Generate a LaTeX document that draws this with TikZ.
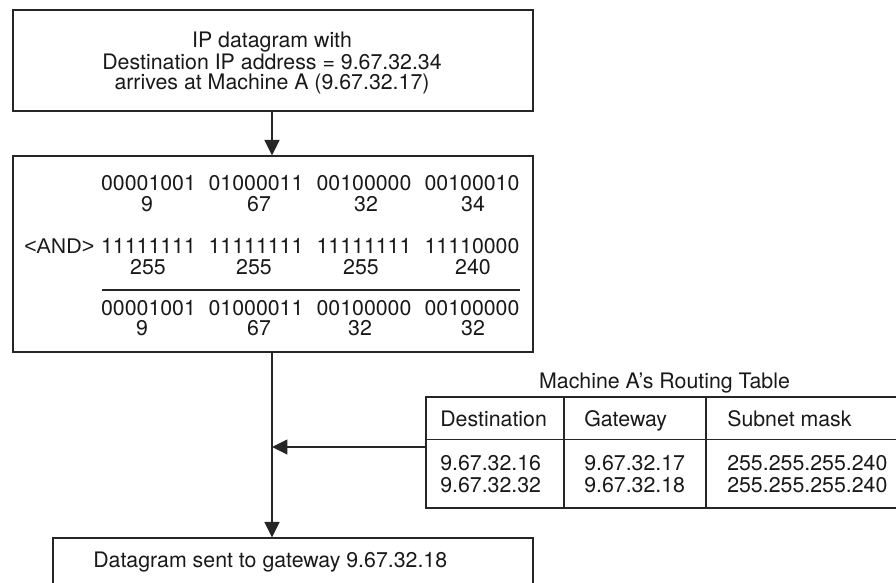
\documentclass[tikz,border=0pt]{standalone}
\usepackage{fontspec}
\setmainfont{TeX Gyre Heros}
\newfontfamily\andfont{Liberation Sans}
\usetikzlibrary{arrows.meta,fit}
\begin{document}
\begin{tikzpicture}[x=0.75pt,y=-0.75pt,
  box/.style={draw=black!85, line width=0.9pt, inner sep=0pt, fit={#1}},
  txt/.style={inner sep=0pt, anchor=base, text=black!90, font=\fontsize{16pt}{16pt}\selectfont},
  ltxt/.style={txt, anchor=base west},
  rule/.style={draw=black!85, line width=0.9pt},
  arr/.style={draw=black!85, line width=0.9pt, -{Triangle[length=11.6pt,width=11.3pt]}}]
\useasboundingbox (0,0) rectangle (896,582);

% top box
\node[box={(13,10) (533,111)}] (b1) {};
\node[txt] (l1) at (272,47.7) {IP datagram with};
\node[txt] (l2) at (272,69.3) {Destination IP address = 9.67.32.34};
\node[txt] (l3) at (272,89.5) {arrives at Machine A (9.67.32.17)};

% AND box
\node[box={(13,156) (533,352)}] (b2) {};
\node[txt] (a11) at (148.5,190) {00001001};
\node[txt] (a12) at (256,190) {01000011};
\node[txt] (a13) at (364,190) {00100000};
\node[txt] (a14) at (472,190) {00100010};
\node[txt] (d11) at (147,211) {9};
\node[txt] (d12) at (259,211) {67};
\node[txt] (d13) at (366,211) {32};
\node[txt] (d14) at (473,211) {34};

\node[ltxt] (and) at (24,253) {\andfont <AND>};
\node[txt] (a21) at (148.5,253) {11111111};
\node[txt] (a22) at (256,253) {11111111};
\node[txt] (a23) at (364,253) {11111111};
\node[txt] (a24) at (472,253) {11110000};
\node[txt] (d21) at (148,274) {255};
\node[txt] (d22) at (254,274) {255};
\node[txt] (d23) at (361,274) {255};
\node[txt] (d24) at (473,274) {240};

\draw[rule] (102,290) -- (520,290);

\node[txt] (a31) at (148.5,315) {00001001};
\node[txt] (a32) at (256,315) {01000011};
\node[txt] (a33) at (364,315) {00100000};
\node[txt] (a34) at (472,315) {00100000};
\node[txt] (d31) at (142,335) {9};
\node[txt] (d32) at (259,335) {67};
\node[txt] (d33) at (360,335) {32};
\node[txt] (d34) at (473,335) {32};

% bottom box
\node[box={(53,538) (533,612)}] (b3) {};
\node[ltxt] (t3) at (93,567.7) {Datagram sent to gateway 9.67.32.18};

% routing table
\node[txt] (ttl) at (664.5,388.3) {Machine A’s Routing Table};
\node[box={(426,397) (903,508)}] (tbl) {};
\draw[rule] (tbl.west |- 0,439.5) -- (tbl.east |- 0,439.5);
\draw[rule] (564,397) -- (564,508);
\draw[rule] (706,397) -- (706,508);
\node[ltxt] (h1) at (440,426.7) {Destination};
\node[ltxt] (h2) at (584,426.7) {Gateway};
\node[ltxt] (h3) at (727,426.7) {Subnet mask};
\node[ltxt] (r11) at (440,470.7) {9.67.32.16};
\node[ltxt] (r12) at (584,470.7) {9.67.32.17};
\node[ltxt] (r13) at (727,470.7) {255.255.255.240};
\node[ltxt] (r21) at (440,492.7) {9.67.32.32};
\node[ltxt] (r22) at (584,492.7) {9.67.32.18};
\node[ltxt] (r23) at (727,492.7) {255.255.255.240};

% connectors
\coordinate (join) at (272,447);
\draw[arr] (b1.south -| join) -- (b2.north -| join);
\draw[arr] (b2.south -| join) -- (b3.north -| join);
\draw[arr] (tbl.west |- join) -- (join);
\end{tikzpicture}
\end{document}
